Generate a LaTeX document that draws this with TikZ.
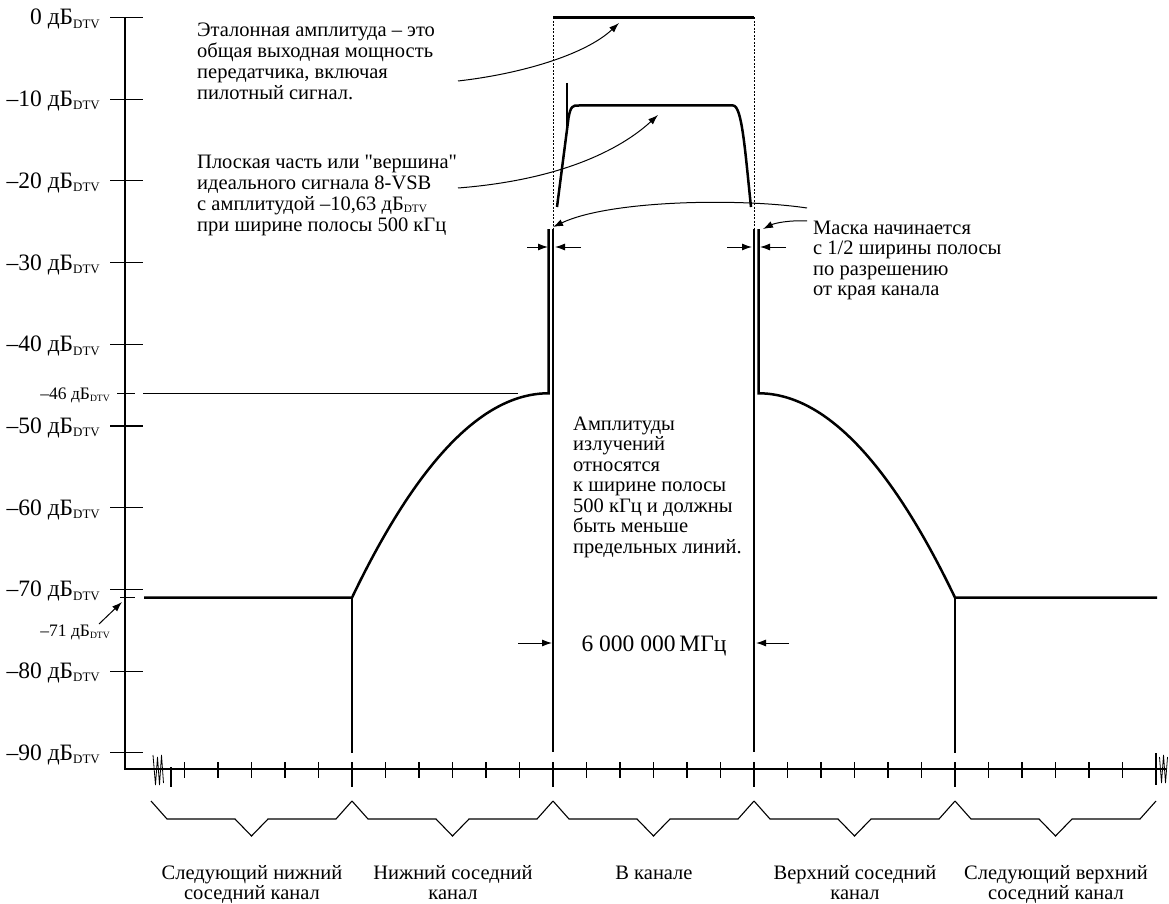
\documentclass[tikz,border=0pt]{standalone}
\usepackage{fontspec}
\setmainfont{Liberation Serif}[Ligatures=TeXOff]
\usepackage{graphicx}
\usetikzlibrary{arrows.meta}
\newcommand\dtvsub{\raisebox{-0.3ex}{\scalebox{0.55}{DTV}}}
\newcommand\dbu{дБ\dtvsub}
\begin{document}
\begin{tikzpicture}[x=1pt,y=-1pt,
 thinln/.style={line width=1.1pt},
 thickln/.style={line width=2.5pt},
 dotln/.style={line width=0.7pt, dash pattern=on 2pt off 1.5pt},
 arr/.style={line width=1pt,-{Latex[length=10pt,width=7pt]}},
 axlab/.style={anchor=base east, inner sep=0pt, font=\fontsize{23.5}{26}\selectfont},
 smlab/.style={anchor=base east, inner sep=0pt, font=\fontsize{17.5}{20}\selectfont},
 txt/.style={anchor=base west, inner sep=0pt, align=left, font=\fontsize{20.5}{21}\selectfont},
 ctxt/.style={anchor=base, inner sep=0pt, align=center, font=\fontsize{20.5}{20}\selectfont}]
\useasboundingbox (0,0) rectangle (1169,904);

% ---- axes
\coordinate (ytop) at (125,17.5);
\coordinate (orig) at (125,769);
\coordinate (xend) at (1166,769);
\draw[thinln] (ytop) -- (orig) -- (xend);
% y ticks and labels
\foreach \y in {17.5,99.2,180.9,262.6,344.3,426,507.7,589.4,671.1,752.8}{
  \draw[thinln] (110,\y) -- (143,\y);
}
\node[axlab] (l0) at (100,25) {0 \dbu};
\node[axlab] (l1) at (100,106.7) {–10 \dbu};
\node[axlab] (l2) at (100,188.4) {–20 \dbu};
\node[axlab] (l3) at (100,270.1) {–30 \dbu};
\node[axlab] (l4) at (100,351.8) {–40 \dbu};
\node[axlab] (l5) at (100,433.5) {–50 \dbu};
\node[axlab] (l6) at (100,515.2) {–60 \dbu};
\node[axlab] (l7) at (100,596.9) {–70 \dbu};
\node[axlab] (l8) at (100,678.6) {–80 \dbu};
\node[axlab] (l9) at (100,760.3) {–90 \dbu};
% -46 and -71 marks
\draw[thinln] (117,393.3) -- (135,393.3);
\draw[thinln] (143,393.3) -- (518,393.3);
\node[smlab] (l46) at (110,399) {–46 \dbu};
\draw[thinln] (120,597.6) -- (135,597.6);
\node[smlab] (l71) at (110,636) {–71 \dbu};
\coordinate (a71s) at (99,624);
\coordinate (a71e) at (122,602);
\draw[arr] (a71s) -- (a71e);

% x ticks
\foreach \k in {-5,...,23}{
  \pgfmathsetmacro\xx{352+33.5*\k}
  \draw[thinln] (\xx,762) -- (\xx,778);
}
\foreach \xx in {352,553,754,955}{
  \draw[thinln] (\xx,762) -- (\xx,787);
}
\draw[thinln] (171,767) -- (171,787);
\draw[thinln] (1156,753) -- (1156,785);
% axis breaks
\draw[line width=0.8pt] (153,755) -- (155.5,785) -- (157.5,757) -- (159.5,785) -- (161.5,755) -- (163.5,783);
\draw[line width=0.8pt] (1159.5,757) -- (1161.5,783) -- (1163.5,755) -- (1165.5,783) -- (1167.5,757);

% braces
\foreach \x in {151,352,553,754,955}{
  \draw[thinln] (\x,801) -- (\x+16,819) -- (\x+84,819) -- (\x+100.5,836) -- (\x+117,819) -- (\x+185,819) -- (\x+201,801);
}
\node[ctxt] (b1) at (252,899) {Следующий нижний\\соседний канал};
\node[ctxt] (b2) at (453,899) {Нижний соседний\\канал};
\node[ctxt] (b3) at (654,879) {В канале};
\node[ctxt] (b4) at (855,899) {Верхний соседний\\канал};
\node[ctxt] (b5) at (1056,899) {Следующий верхний\\соседний канал};

% ---- mask
\draw[thickln] (144,597.6) -- (352,597.6)
  .. controls (417.5,461) and (483,393.3) .. (548.5,393.3) -- (548.5,229);
\draw[thickln] (758.5,229) -- (758.5,393.3)
  .. controls (824,393.3) and (889.5,461) .. (955,597.6) -- (1157,597.6);
% channel boundaries
\draw[thinln] (352,597.6) -- (352,753);
\draw[thinln] (955,597.6) -- (955,753);
\draw[thinln] (553,229) -- (553,752);
\draw[thinln] (754,229) -- (754,752);
\draw[dotln] (553,17.5) -- (553,229);
\draw[dotln] (754,17.5) -- (754,229);
% reference level
\draw[thickln] (553,17.5) -- (754,17.5);
% 8-VSB spectrum
\draw[thickln] (557,207) -- (568.5,118) .. controls (570.5,106) and (573,105) .. (579,105.5)
  -- (733,105.5) .. controls (742,105.5) and (745,150) .. (751,207);
\draw[thickln] (567,83) -- (567,128);

% small arrows at mask start
\draw[arr] (527,247) -- (548,247);
\draw[arr] (581,247) -- (555,247);
\draw[arr] (727,247) -- (752,247);
\draw[arr] (786,247) -- (760,247);

% 6 MHz
\node[font=\fontsize{23.5}{26}\selectfont, anchor=base, inner sep=0pt] (bw) at (654,651) {6 000 000\,МГц};
\draw[arr] (518,643) -- (552,643);
\draw[arr] (789,643) -- (756,643);

% texts
\node[txt] (t1) at (197,100) {Эталонная амплитуда – это\\общая выходная мощность\\передатчика, включая\\пилотный сигнал.};
\node[txt] (t2) at (197,231) {Плоская часть или "вершина"\\идеального сигнала 8-VSB\\с амплитудой –10,63 \dbu\\при ширине полосы 500 кГц};
\node[txt, font=\fontsize{20.5}{20.5}\selectfont] (t3) at (813,295.5) {Маска начинается\\с 1/2 ширины полосы\\по разрешению\\от края канала};
\node[txt, font=\fontsize{20.5}{20.5}\selectfont] (t4) at (573,553) {Амплитуды\\излучений\\относятся\\к ширине полосы\\500 кГц и должны\\быть меньше\\предельных линий.};

% annotation arrows
\coordinate (c1s) at (458,81);
\coordinate (c1e) at (619,23);
\draw[arr] (c1s) .. controls (520,74) and (585,55) .. (c1e);
\coordinate (c2s) at (458,188);
\coordinate (c2e) at (658,115);
\draw[arr] (c2s) .. controls (560,180) and (620,150) .. (c2e);
\coordinate (c3s) at (807,208);
\coordinate (c3e) at (553,227);
\draw[arr] (c3s) .. controls (740,198) and (610,200) .. (c3e);
\coordinate (c4s) at (807,221);
\coordinate (c4e) at (763,229);
\draw[arr] (c4s) .. controls (790,220) and (775,223) .. (c4e);
\end{tikzpicture}
\end{document}
